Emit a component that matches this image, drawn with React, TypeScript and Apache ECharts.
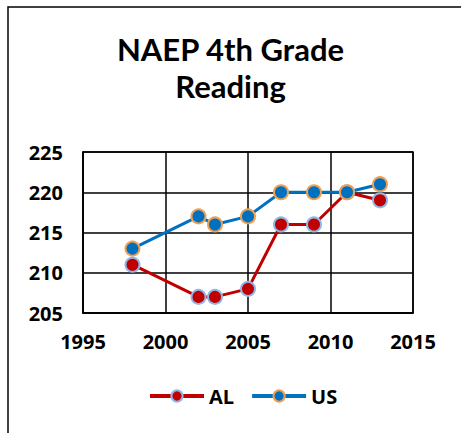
import React, { useEffect, useRef } from "react";
import * as echarts from "echarts";

const years = [1998, 2002, 2003, 2005, 2007, 2009, 2011, 2013];
const alValues = [211, 207, 207, 208, 216, 216, 220, 219];
const usValues = [213, 217, 216, 217, 220, 220, 220, 221];
const titleLines = ["NAEP 4th Grade", "Reading"];

export default function App() {
  const ref = useRef<HTMLDivElement>(null);
  useEffect(() => {
    const chart = echarts.init(ref.current!, undefined, { renderer: "svg" });
    const font = "'Open Sans', 'Liberation Sans', sans-serif";
    const titleStyle = {
      fontFamily: "Lato, 'Open Sans', sans-serif",
      fontWeight: "bold",
      fontSize: 31,
      lineHeight: 31,
      color: "#000",
    };
    chart.setOption({
      animation: false,
      backgroundColor: "#ffffff",
      graphic: [
        {
          type: "rect",
          shape: { x: 8, y: 7, width: 600, height: 600 },
          style: { fill: "none", stroke: "#000", lineWidth: 1.5 },
          z: 100,
        },
      ],
      title: [
        { text: titleLines[0], left: "center", top: 33, padding: 0, textStyle: titleStyle },
        { text: titleLines[1], left: "center", top: 70, padding: 0, textStyle: titleStyle },
      ],
      legend: {
        top: 381,
        left: 143,
        itemWidth: 54,
        itemHeight: 14,
        itemGap: 16,
        lineStyle: { width: 4 },
        textStyle: { fontFamily: font, fontWeight: "bold", fontSize: 20, color: "#000" },
        data: ["AL", "US"],
      },
      grid: {
        left: 83,
        top: 152,
        width: 330,
        height: 161,
        show: true,
        borderColor: "#000",
        borderWidth: 1.5,
      },
      xAxis: {
        type: "value",
        min: 1995,
        max: 2015,
        interval: 5,
        axisLine: { show: true, lineStyle: { color: "#000", width: 1.5 } },
        axisTick: { show: false },
        splitLine: { show: true, lineStyle: { color: "#000", width: 1.5 } },
        axisLabel: {
          fontFamily: font,
          fontWeight: "bold",
          fontSize: 20,
          color: "#000",
          margin: 18,
          formatter: (v: number) => String(v),
        },
      },
      yAxis: {
        type: "value",
        min: 205,
        max: 225,
        interval: 5,
        axisLine: { show: true, lineStyle: { color: "#000", width: 1.5 } },
        axisTick: { show: false },
        splitLine: { show: true, lineStyle: { color: "#000", width: 1.5 } },
        axisLabel: {
          fontFamily: font,
          fontWeight: "bold",
          fontSize: 20,
          color: "#000",
          margin: 20,
        },
      },
      series: [
        {
          name: "AL",
          type: "line",
          data: years.map((y, i) => [y, alValues[i]]),
          symbol: "circle",
          symbolSize: 14,
          lineStyle: { color: "#C00000", width: 3 },
          itemStyle: { color: "#C00000", borderColor: "#8FB8E8", borderWidth: 2 },
        },
        {
          name: "US",
          type: "line",
          data: years.map((y, i) => [y, usValues[i]]),
          symbol: "circle",
          symbolSize: 14,
          lineStyle: { color: "#0070C0", width: 3 },
          itemStyle: { color: "#0070C0", borderColor: "#F0A050", borderWidth: 2 },
        },
      ],
    });
    return () => chart.dispose();
  }, []);
  return (
    <div
      ref={ref}
      style={{ position: "fixed", left: 0, top: 0, width: 461, height: 433 }}
    />
  );
}
